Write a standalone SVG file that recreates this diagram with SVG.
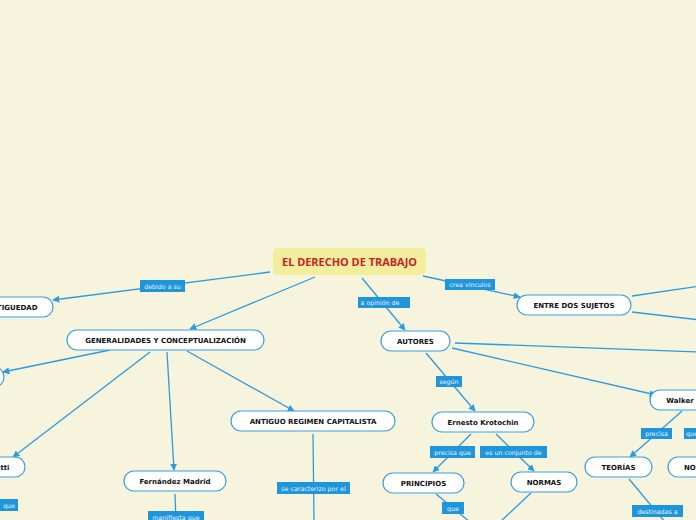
<svg xmlns="http://www.w3.org/2000/svg" width="696" height="520" viewBox="0 0 696 520">
<defs>
<marker id="ah" viewBox="0 0 10 10" refX="9" refY="5" markerWidth="7" markerHeight="7" markerUnits="userSpaceOnUse" orient="auto"><path d="M0,0 L10,5 L0,10 z" fill="#2b9be0"/></marker>
<style>
.bg{fill:#f6f4dc}
.c{stroke:#2b9be0;stroke-width:1.3;fill:none}
.a{marker-end:url(#ah)}
.n rect{fill:#fff;stroke:#3a9ee0;stroke-width:1.2}
.n text{font-family:"DejaVu Sans",sans-serif;font-weight:bold;font-size:7px;fill:#111;text-anchor:middle}
.l rect{fill:#1f95dc}
.l text{font-family:"DejaVu Sans",sans-serif;font-size:6.3px;fill:#e8f4fc;text-anchor:middle}
</style>
</defs>
<rect class="bg" width="696" height="520"/>
<g id="connectors">
<path class="c a" d="M270,272 L53,300"/>
<path class="c a" d="M315,277 L190,329"/>
<path class="c a" d="M362,278 L405,330"/>
<path class="c a" d="M423,276 L520,297"/>
<path class="c" d="M632,296 L700,286"/>
<path class="c" d="M632,312 L700,320"/>
<path class="c" d="M455,343 L700,352"/>
<path class="c a" d="M452,348 L656,395"/>
<path class="c a" d="M426,353 L475,411"/>
<path class="c a" d="M471,434 L433,472"/>
<path class="c a" d="M496,434 L534,471"/>
<path class="c" d="M436,494 L470,522"/>
<path class="c" d="M531,493 L500,522"/>
<path class="c a" d="M682,411 L630,457"/>
<path class="c" d="M629,479 L665,522"/>
<path class="c a" d="M110,350 L3,372"/>
<path class="c a" d="M150,352 L13,457"/>
<path class="c a" d="M167,352 L174,470"/>
<path class="c a" d="M187,351 L294,411"/>
<path class="c" d="M313,434 L314,522"/>
<path class="c" d="M175,494 L176,522"/>
</g>
<g id="title"><rect x="273" y="248" width="153" height="27" rx="5" fill="#f2ee9c"/><text x="349.5" y="265.5" font-family="'Open Sans',sans-serif" font-weight="bold" font-size="10" fill="#c8202d" text-anchor="middle" textLength="135" lengthAdjust="spacingAndGlyphs">EL DERECHO DE TRABAJO</text></g>
<g id="antiguedad" class="n"><rect x="-40" y="297" width="93" height="20" rx="10"/><text x="37.5" y="310" style="text-anchor:end">ANTIGUEDAD</text></g>
<g id="generalidades" class="n"><rect x="67" y="330" width="197" height="20" rx="10"/><text x="165.5" y="343">GENERALIDADES Y CONCEPTUALIZACIÓN</text></g>
<g id="left-node" class="n"><rect x="-60" y="367" width="64" height="20" rx="10"/></g>
<g id="carnelutti" class="n"><rect x="-50" y="457" width="75" height="20" rx="10"/><text x="9.5" y="470" style="text-anchor:end">Carnelutti</text></g>
<g id="fernandez" class="n"><rect x="124" y="471" width="102" height="20" rx="10"/><text x="175" y="484">Fernández Madrid</text></g>
<g id="antiguo" class="n"><rect x="231" y="411" width="164" height="20" rx="10"/><text x="313" y="424">ANTIGUO REGIMEN CAPITALISTA</text></g>
<g id="autores" class="n"><rect x="381" y="331" width="69" height="20" rx="10"/><text x="415.5" y="344">AUTORES</text></g>
<g id="entre" class="n"><rect x="517" y="295" width="114" height="20" rx="10"/><text x="574" y="308">ENTRE DOS SUJETOS</text></g>
<g id="krotochin" class="n"><rect x="432" y="412" width="102" height="20" rx="10"/><text x="483" y="425">Ernesto Krotochin</text></g>
<g id="principios" class="n"><rect x="383" y="473" width="81" height="20" rx="10"/><text x="423.5" y="486">PRINCIPIOS</text></g>
<g id="normas" class="n"><rect x="511" y="472" width="66" height="20" rx="10"/><text x="544" y="485">NORMAS</text></g>
<g id="walker" class="n"><rect x="650" y="390" width="60" height="20" rx="10"/><text x="680" y="403">Walker</text></g>
<g id="teorias" class="n"><rect x="585" y="457" width="67" height="20" rx="10"/><text x="618.5" y="470">TEORÍAS</text></g>
<g id="normas2" class="n"><rect x="668" y="457" width="66" height="20" rx="10"/><text x="684" y="470" style="text-anchor:start">NORMAS</text></g>
<g id="labels">
<g class="l"><rect x="140" y="280" width="45" height="12"/><text x="162.5" y="288.5">debido a su</text></g>
<g class="l"><rect x="445" y="279" width="50" height="11"/><text x="470" y="287">crea vinculos</text></g>
<g class="l"><rect x="358" y="297" width="52" height="11"/><text x="380" y="305">a opinión de</text></g>
<g class="l"><rect x="436" y="376" width="26" height="11"/><text x="449" y="384">según</text></g>
<g class="l"><rect x="430" y="446" width="45" height="12"/><text x="452.5" y="454.5">precisa que</text></g>
<g class="l"><rect x="480" y="446" width="67" height="12"/><text x="513.5" y="454.5">es un conjunto de</text></g>
<g class="l"><rect x="641" y="428" width="31" height="11"/><text x="656.5" y="436">precisa</text></g>
<g class="l"><rect x="684" y="428" width="30" height="11"/><text x="686" y="436" style="text-anchor:start">que</text></g>
<g class="l"><rect x="-20" y="499" width="38" height="12"/><text x="15" y="507.5" style="text-anchor:end">que</text></g>
<g class="l"><rect x="148" y="511" width="56" height="12"/><text x="176" y="519.5">manifiesta que</text></g>
<g class="l"><rect x="277" y="482" width="73" height="12"/><text x="313.5" y="490.5">se caracterizo por el</text></g>
<g class="l"><rect x="442" y="502" width="22" height="12"/><text x="453" y="510.5">que</text></g>
<g class="l"><rect x="632" y="505" width="51" height="12"/><text x="657.5" y="513.5">destinadas a</text></g>
</g>
</svg>
